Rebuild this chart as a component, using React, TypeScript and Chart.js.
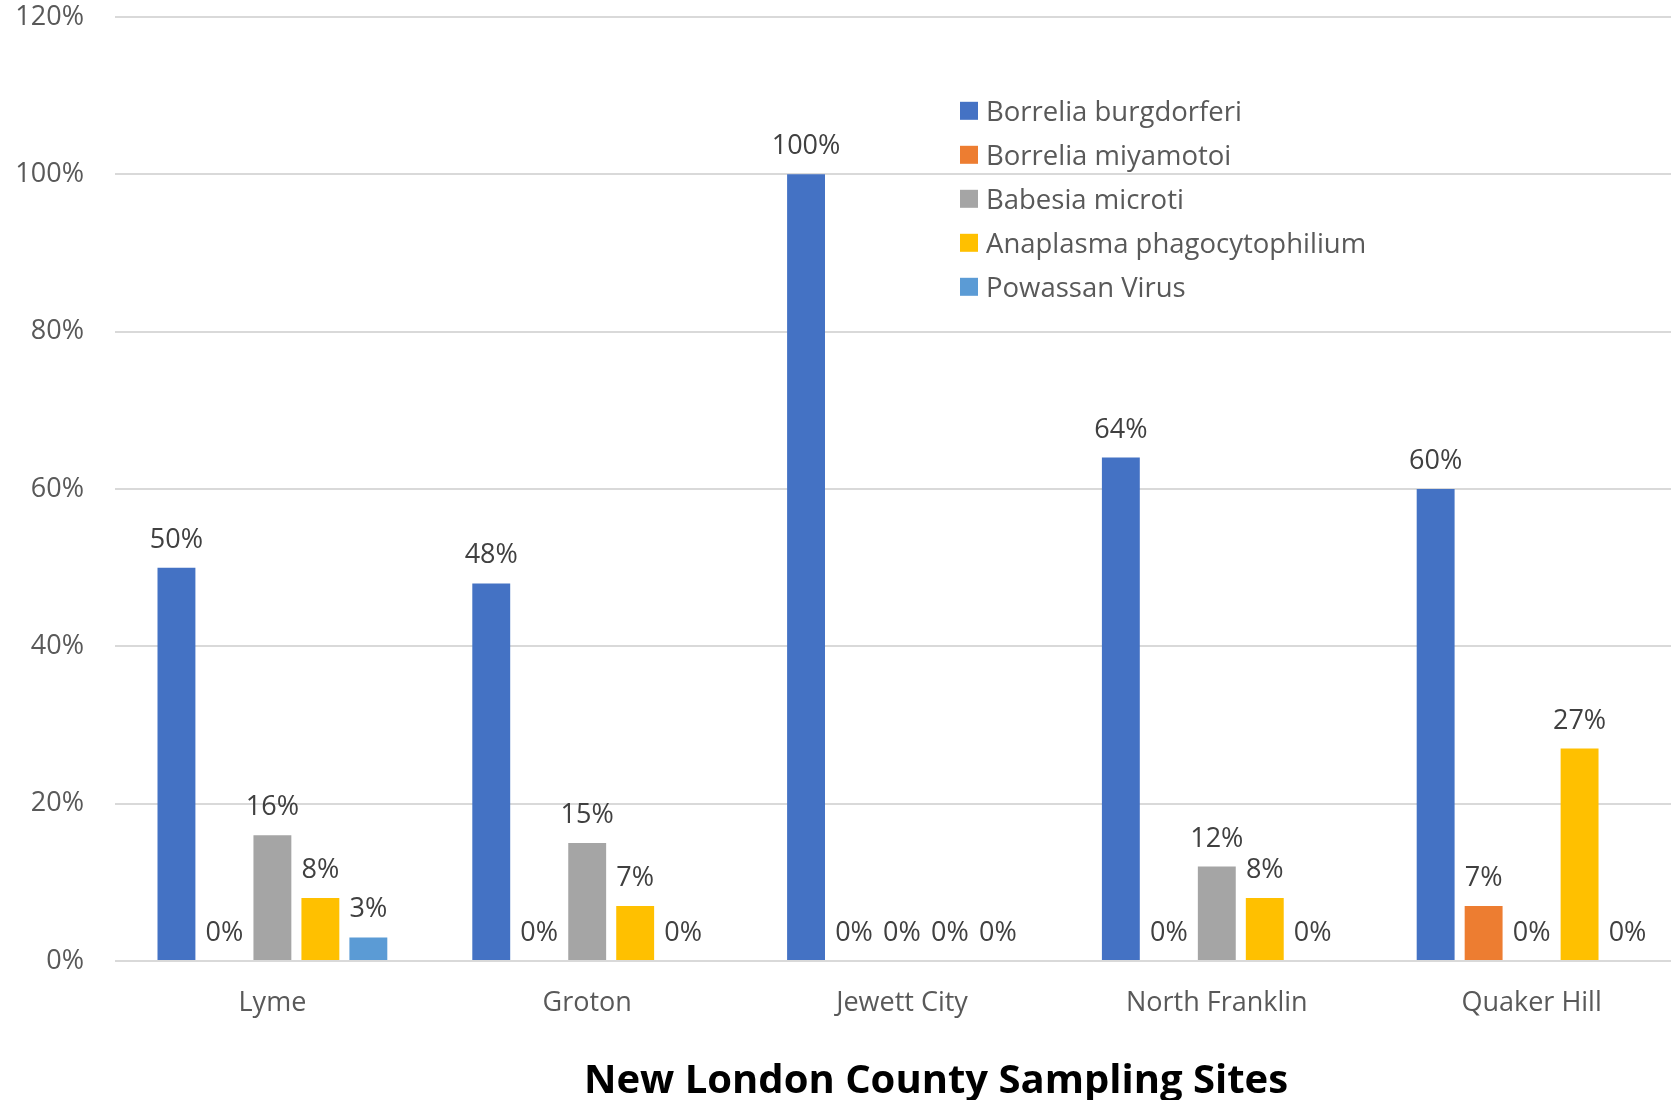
import React, { useEffect, useRef } from 'react';
import { Chart, registerables } from 'chart.js';

Chart.register(...registerables);

// ---- data ----
const categories = ['Lyme', 'Groton', 'Jewett City', 'North Franklin', 'Quaker Hill'];
const seriesNames = [
  'Borrelia burgdorferi',
  'Borrelia miyamotoi',
  'Babesia microti',
  'Anaplasma phagocytophilium',
  'Powassan Virus',
];
const borreliaBurgdorferi = [50, 48, 100, 64, 60];
const borreliaMiyamotoi = [0, 0, 0, 0, 7];
const babesiaMicroti = [16, 15, 0, 12, 0];
const anaplasmaPhagocytophilium = [8, 7, 0, 8, 27];
const powassanVirus = [3, 0, 0, 0, 0];
const seriesValues = [
  borreliaBurgdorferi,
  borreliaMiyamotoi,
  babesiaMicroti,
  anaplasmaPhagocytophilium,
  powassanVirus,
];
const seriesColors = ['#4472C4', '#ED7D31', '#A5A5A5', '#FFC000', '#5B9BD5'];
const yTickMin = 0;
const yTickMax = 120;
const yTickStep = 20;
const xAxisTitle = 'New London County Sampling Sites';

const FONT = '"Open Sans", "Noto Sans", sans-serif';

const dataLabelPlugin = {
  id: 'dataLabels',
  afterDatasetsDraw(chart: any) {
    const ctx = chart.ctx;
    ctx.save();
    ctx.font = `27px ${FONT}`;
    ctx.fillStyle = '#404040';
    ctx.textAlign = 'center';
    ctx.textBaseline = 'alphabetic';
    chart.data.datasets.forEach((ds: any, i: number) => {
      const meta = chart.getDatasetMeta(i);
      meta.data.forEach((bar: any, j: number) => {
        const v = ds.data[j];
        ctx.fillText(`${Math.round(v)}%`, bar.x, bar.y - 20);
      });
    });
    ctx.restore();
  },
};

const legendPlugin = {
  id: 'insideLegend',
  afterDraw(chart: any) {
    const ctx = chart.ctx;
    ctx.save();
    ctx.font = `27.5px ${FONT}`;
    ctx.textAlign = 'left';
    ctx.textBaseline = 'alphabetic';
    chart.data.datasets.forEach((ds: any, i: number) => {
      const cy = 110.8 + 44 * i;
      ctx.fillStyle = ds.backgroundColor;
      ctx.fillRect(960, cy - 9, 18, 18);
      ctx.fillStyle = '#595959';
      ctx.fillText(ds.label, 986, cy + 9.8);
    });
    ctx.restore();
  },
};

const titlePlugin = {
  id: 'bottomTitle',
  afterDraw(chart: any) {
    const ctx = chart.ctx;
    ctx.save();
    ctx.font = `bold 40px ${FONT}`;
    ctx.fillStyle = '#000000';
    ctx.textAlign = 'center';
    ctx.textBaseline = 'alphabetic';
    ctx.fillText(xAxisTitle, 936, 1093);
    ctx.restore();
  },
};

export default function App() {
  const canvasRef = useRef<HTMLCanvasElement | null>(null);

  useEffect(() => {
    if (!canvasRef.current) return;
    const chart = new Chart(canvasRef.current, {
      type: 'bar',
      data: {
        labels: categories,
        datasets: seriesNames.map((name, i) => ({
          label: name,
          data: seriesValues[i],
          backgroundColor: seriesColors[i],
          borderWidth: 0,
          categoryPercentage: 0.762,
          barPercentage: 0.79,
        })),
      },
      options: {
        responsive: false,
        animation: false,
        devicePixelRatio: 1,
        layout: { padding: { top: 17, left: 0, right: 0, bottom: 0 } },
        plugins: {
          legend: { display: false },
          tooltip: { enabled: false },
          title: { display: false },
        },
        scales: {
          x: {
            grid: { display: false, drawTicks: false },
            border: { display: false },
            ticks: {
              color: '#595959',
              font: { family: FONT, size: 27 },
              padding: 26,
              maxRotation: 0,
              autoSkip: false,
            },
            afterFit(scale: any) {
              scale.height = 139;
            },
          },
          y: {
            min: yTickMin,
            max: yTickMax,
            grid: { color: '#d9d9d9', lineWidth: 2, drawTicks: false },
            border: { display: false },
            ticks: {
              stepSize: yTickStep,
              color: '#595959',
              font: { family: FONT, size: 27 },
              padding: 31,
              callback: (v: any) => `${v}%`,
            },
            afterFit(scale: any) {
              scale.width = 115;
              scale.paddingTop = 0;
              scale.paddingBottom = 0;
            },
          },
        },
      },
      plugins: [dataLabelPlugin, legendPlugin, titlePlugin],
    });
    return () => chart.destroy();
  }, []);

  return (
    <div
      style={{
        position: 'fixed',
        left: 0,
        top: 0,
        width: 1671,
        height: 1100,
        overflow: 'hidden',
        background: '#ffffff',
      }}
    >
      <canvas ref={canvasRef} width={1689} height={1100} style={{ display: 'block' }} />
    </div>
  );
}
